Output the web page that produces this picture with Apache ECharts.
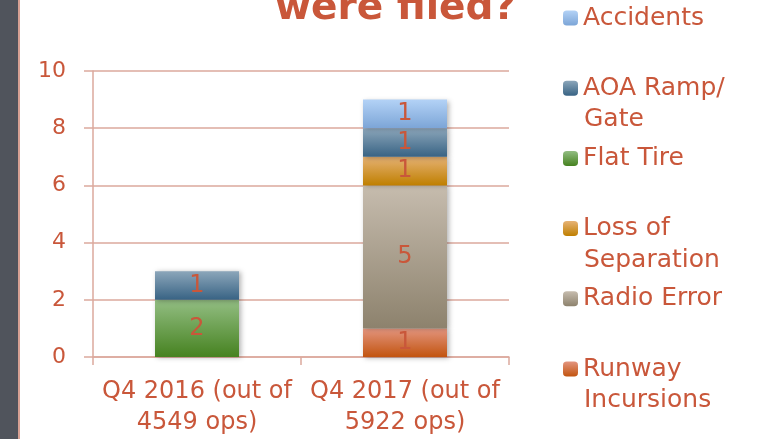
<!DOCTYPE html>
<html>
<head>
<meta charset="utf-8">
<script src="https://cdn.jsdelivr.net/npm/echarts@6/dist/echarts.min.js"></script>
<style>
  html, body { margin: 0; padding: 0; background: #fff; }
  #chart { width: 762px; height: 439px; }
</style>
</head>
<body>
<div id="chart"></div>
<script>
// categories on the x axis
const categories = ['Q4 2016 (out of\n4549 ops)', 'Q4 2017 (out of\n5922 ops)']
// series, bottom of the stack first
const seriesNames = ['Runway Incursions', 'Radio Error', 'Loss of Separation', 'Flat Tire', 'AOA Ramp/ Gate', 'Accidents']
const runwayIncursions = ['-', 1]
const radioError = ['-', 5]
const lossOfSeparation = ['-', 1]
const flatTire = [2, '-']
const aoaRampGate = [1, 1]
const accidents = ['-', 1]
const seriesValues = [runwayIncursions, radioError, lossOfSeparation, flatTire, aoaRampGate, accidents]
// y axis ticks
const yTicks = [0, 2, 4, 6, 8, 10]
// legend text, split over lines as in the picture
const legendLines = {
  'Accidents': ['Accidents'],
  'AOA Ramp/ Gate': ['AOA Ramp/', 'Gate'],
  'Flat Tire': ['Flat Tire'],
  'Loss of Separation': ['Loss of', 'Separation'],
  'Radio Error': ['Radio Error'],
  'Runway Incursions': ['Runway', 'Incursions'],
}

const textColor = '#c9573a'
const lineColor = '#dba99d'
const font = 'DejaVu Sans'
// gradient top / bottom for each series
const barColors = [
  ['#e3957f', '#c2540f'],
  ['#c6bcae', '#8d826d'],
  ['#e6b274', '#bf7f00'],
  ['#93be83', '#468220'],
  ['#8ca6ba', '#386384'],
  ['#b3d2f6', '#7ca5d7'],
]

const chart = echarts.init(document.getElementById('chart'))

const legendOrder = seriesNames.slice().reverse()
const legendTop = 2
const legendStep = 70.2
const legendSize = 25

// second lines of the legend names
const secondLines = []
legendOrder.forEach((name, i) => {
  const lines = legendLines[name]
  if (lines.length > 1) {
    secondLines.push({
      type: 'text',
      left: 584,
      top: legendTop + i * legendStep + 35,
      style: { text: lines[1], fill: textColor, font: legendSize + 'px "' + font + '"' },
    })
  }
})

const option = {
  backgroundColor: '#fff',
  textStyle: { fontFamily: font },
  animation: false,
  grid: { left: 93, right: 253, top: 71, bottom: 82 },
  legend: {
    orient: 'vertical',
    left: 563,
    top: legendTop,
    padding: 0,
    itemWidth: 15,
    itemHeight: 15,
    itemGap: legendStep - 32,
    data: legendOrder,
    formatter: (name) => legendLines[name][0],
    textStyle: { color: textColor, fontSize: legendSize, lineHeight: 32, fontFamily: font },
  },
  xAxis: {
    type: 'category',
    data: categories,
    axisLine: { lineStyle: { color: lineColor, width: 1.5 } },
    axisTick: { show: true, length: 8, lineStyle: { color: lineColor, width: 1.5 } },
    axisLabel: { color: textColor, fontSize: 24, lineHeight: 31, margin: 19, interval: 0 },
  },
  yAxis: {
    type: 'value',
    min: yTicks[0],
    max: yTicks[yTicks.length - 1],
    interval: 2,
    axisLine: { show: true, lineStyle: { color: lineColor, width: 1.5 } },
    axisTick: { show: true, length: 9, lineStyle: { color: lineColor, width: 1.5 } },
    axisLabel: { color: textColor, fontSize: 22, margin: 27 },
    splitLine: { lineStyle: { color: lineColor, width: 1.5 } },
  },
  series: seriesNames.map((name, i) => ({
    name: name,
    type: 'bar',
    stack: 'total',
    barWidth: 84,
    data: seriesValues[i],
    label: { show: true, position: 'inside', color: textColor, fontSize: 24 },
    itemStyle: {
      color: new echarts.graphic.LinearGradient(0, 0, 0, 1, [
        { offset: 0, color: barColors[i][0] },
        { offset: 1, color: barColors[i][1] },
      ]),
      shadowColor: 'rgba(0,0,0,0.3)',
      shadowBlur: 5,
      shadowOffsetX: 2,
      shadowOffsetY: 1,
    },
  })),
  graphic: [
    // dark strip on the left edge
    { type: 'rect', left: 0, top: 0, shape: { width: 18, height: 439 }, style: { fill: '#50545c' } },
    { type: 'rect', left: 18, top: 0, shape: { width: 2, height: 439 }, style: { fill: '#d7a194' } },
    // title, cut off by the top edge
    {
      type: 'text',
      left: 275,
      top: -11,
      style: { text: 'were filed?', fill: '#c9573a', font: 'bold 39px "' + font + '"' },
    },
  ].concat(secondLines),
}

chart.setOption(option)
</script>
</body>
</html>
